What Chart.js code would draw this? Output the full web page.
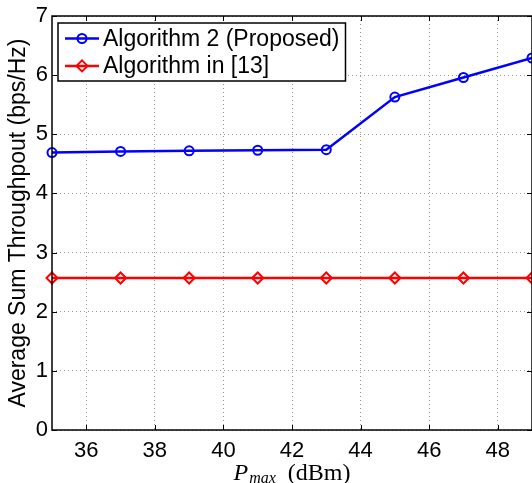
<!DOCTYPE html>
<html>
<head>
<meta charset="utf-8">
<script src="https://cdn.jsdelivr.net/npm/chart.js@4/dist/chart.umd.min.js"></script>
<style>
  html, body { margin: 0; padding: 0; background: #fff; }
  canvas { display: block; }
</style>
</head>
<body>
<canvas id="throughputChart" width="532" height="483"></canvas>
<script>
// values
const pmax = [35, 37, 39, 41, 43, 45, 47, 49];
const proposed = [4.69, 4.71, 4.72, 4.73, 4.74, 5.63, 5.96, 6.29];
const reference13 = [2.57, 2.57, 2.57, 2.57, 2.57, 2.57, 2.57, 2.57];
const xTicks = [36, 38, 40, 42, 44, 46, 48];
const yTicks = [0, 1, 2, 3, 4, 5, 6, 7];

const SANS = '"Liberation Sans", Arial, Helvetica, sans-serif';
const SERIF = '"Liberation Serif", "Times New Roman", serif';

Chart.defaults.font.family = SANS;
Chart.defaults.color = '#000';

const toPoints = (ys) => pmax.map((x, i) => ({ x, y: ys[i] }));

// matlab style box + inward ticks, drawn over the data
const frame = {
  id: 'frame',
  afterDatasetsDraw(chart) {
    const { ctx, chartArea: a, scales } = chart;
    ctx.save();
    ctx.strokeStyle = '#000';
    ctx.lineWidth = 1.5;
    ctx.strokeRect(a.left, a.top, a.right - a.left, a.bottom - a.top);
    ctx.lineWidth = 1;
    ctx.beginPath();
    const len = 5;
    xTicks.forEach(v => {
      const px = Math.round(scales.x.getPixelForValue(v)) + 0.5;
      ctx.moveTo(px, a.bottom); ctx.lineTo(px, a.bottom - len);
      ctx.moveTo(px, a.top); ctx.lineTo(px, a.top + len);
    });
    yTicks.forEach(v => {
      const py = Math.round(scales.y.getPixelForValue(v)) + 0.5;
      ctx.moveTo(a.left, py); ctx.lineTo(a.left + len, py);
      ctx.moveTo(a.right, py); ctx.lineTo(a.right - len, py);
    });
    ctx.stroke();
    ctx.restore();
  },
  afterDraw(chart) {
    const { ctx, chartArea: a } = chart;
    ctx.save();

    // legend box in upper left corner
    ctx.font = '23px ' + SANS;
    const sets = chart.data.datasets;
    const textW = Math.max(...sets.map(d => ctx.measureText(d.label).width));
    const bx = a.left + 6, by = a.top + 7;
    const bw = 45 + textW + 6, bh = 58;
    ctx.fillStyle = '#fff';
    ctx.fillRect(bx, by, bw, bh);
    ctx.strokeStyle = '#000';
    ctx.lineWidth = 1.5;
    ctx.strokeRect(bx, by, bw, bh);
    sets.forEach((d, i) => {
      const y = by + 15.5 + i * 27.4;
      ctx.strokeStyle = d.borderColor;
      ctx.lineWidth = d.borderWidth;
      ctx.beginPath();
      ctx.moveTo(bx + 7, y);
      ctx.lineTo(bx + 41, y);
      ctx.stroke();
      ctx.fillStyle = 'rgba(0,0,0,0)';
      ctx.lineWidth = d.pointBorderWidth;
      Chart.helpers.drawPoint(ctx, {
        pointStyle: d.pointStyle, radius: d.pointRadius, rotation: 0,
        borderWidth: d.pointBorderWidth
      }, bx + 24, y);
      ctx.fillStyle = '#000';
      ctx.textBaseline = 'middle';
      ctx.textAlign = 'left';
      ctx.fillText(d.label, bx + 45, y + 1);
    });

    // x axis title: P_max (dBm)
    const main = '24px ' + SERIF, sub = 'italic 16px ' + SERIF;
    ctx.font = 'italic ' + main; const wP = ctx.measureText('P').width;
    ctx.font = sub; const wSub = ctx.measureText('max').width;
    ctx.font = main; const wRest = ctx.measureText('  (dBm)').width;
    let x = (a.left + a.right) / 2 - (wP + 1 + wSub + wRest) / 2;
    const base = 480;
    ctx.fillStyle = '#000';
    ctx.textBaseline = 'alphabetic';
    ctx.textAlign = 'left';
    ctx.font = 'italic ' + main; ctx.fillText('P', x, base); x += wP + 1;
    ctx.font = sub; ctx.fillText('max', x, base + 3); x += wSub;
    ctx.font = main; ctx.fillText('  (dBm)', x, base);
    ctx.restore();
  }
};

new Chart(document.getElementById('throughputChart'), {
  type: 'line',
  data: {
    datasets: [
      {
        label: 'Algorithm 2 (Proposed)',
        data: toPoints(proposed),
        borderColor: '#0000ff',
        borderWidth: 2.5,
        pointStyle: 'circle',
        pointRadius: 4.5,
        pointBorderWidth: 2,
        pointBorderColor: '#0000ff',
        pointBackgroundColor: 'rgba(0,0,0,0)',
        tension: 0,
        clip: false
      },
      {
        label: 'Algorithm in [13]',
        data: toPoints(reference13),
        borderColor: '#ff0000',
        borderWidth: 2.5,
        pointStyle: 'rectRot',
        pointRadius: 5.5,
        pointBorderWidth: 2,
        pointBorderColor: '#ff0000',
        pointBackgroundColor: 'rgba(0,0,0,0)',
        tension: 0,
        clip: false
      }
    ]
  },
  options: {
    responsive: false,
    animation: false,
    layout: { autoPadding: false, padding: { top: 16, right: 0, left: 0, bottom: 0 } },
    plugins: {
      legend: { display: false },
      tooltip: { enabled: false }
    },
    scales: {
      x: {
        type: 'linear',
        min: 35,
        max: 49,
        afterBuildTicks: (axis) => { axis.ticks = xTicks.map(v => ({ value: v })); },
        afterFit: (axis) => { axis.height = 53; axis.paddingLeft = 0; axis.paddingRight = 0; },
        grid: { color: '#9a9a9a', lineWidth: 1, drawTicks: false },
        border: { display: false, dash: [1, 3] },
        ticks: { font: { size: 22 }, padding: 8, maxRotation: 0 }
      },
      y: {
        min: 0,
        max: 7,
        afterBuildTicks: (axis) => { axis.ticks = yTicks.map(v => ({ value: v })); },
        afterFit: (axis) => { axis.width = 52; axis.paddingTop = 0; axis.paddingBottom = 0; },
        grid: { color: '#9a9a9a', lineWidth: 1, drawTicks: false },
        border: { display: false, dash: [1, 3] },
        ticks: { font: { size: 22 }, padding: 4 },
        title: {
          display: true,
          text: 'Average Sum Throughpout (bps/Hz)',
          font: { size: 23 },
          padding: { top: 5, bottom: 0 }
        }
      }
    }
  },
  plugins: [frame]
});
</script>
</body>
</html>
